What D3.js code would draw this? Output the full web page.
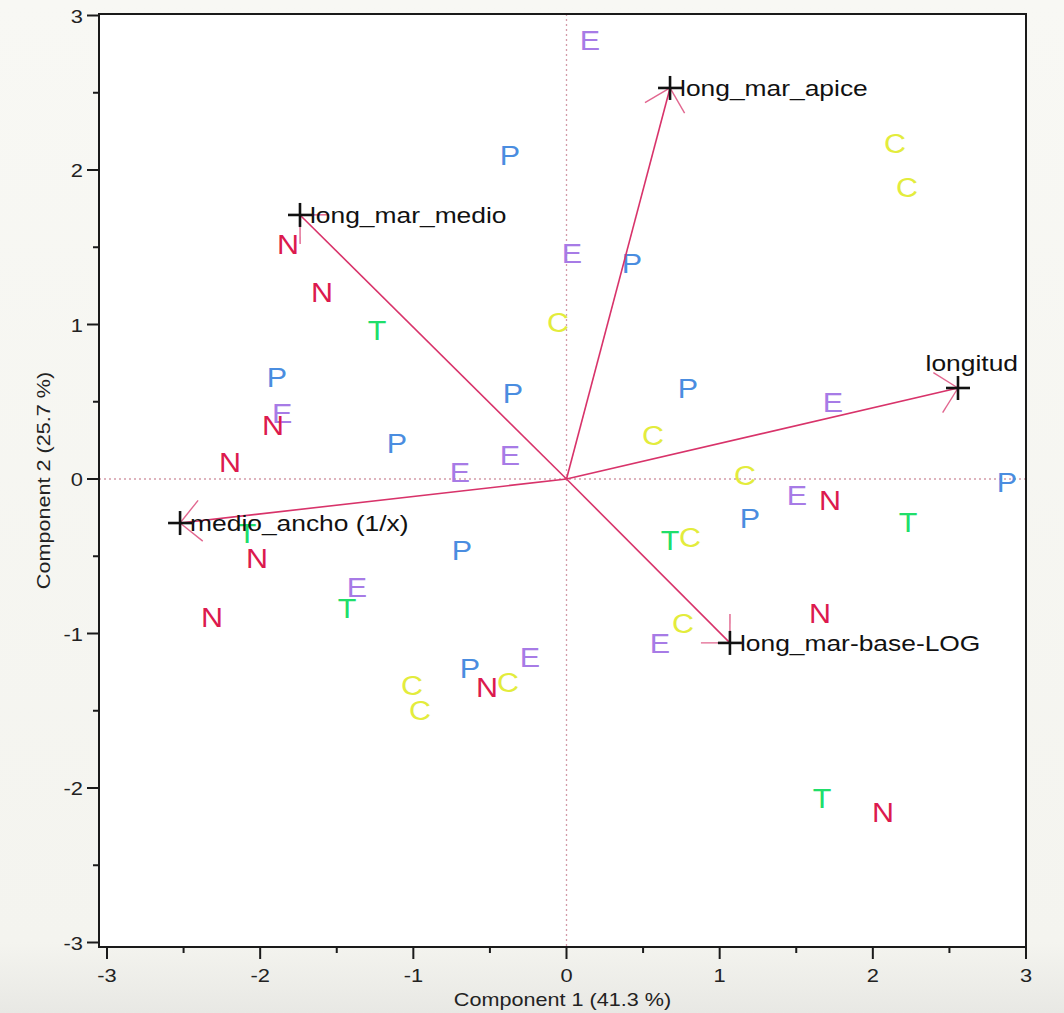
<!DOCTYPE html>
<html>
<head>
<meta charset="utf-8">
<script src="https://cdn.jsdelivr.net/npm/d3@7/dist/d3.min.js"></script>
<style>
  html, body { margin: 0; padding: 0; background: #f6f6f1; }
  svg { display: block; }
  text { font-family: "Liberation Sans", Arial, Helvetica, sans-serif; }
</style>
</head>
<body>
<svg id="chart" width="1064" height="1013"></svg>
<script>
// Observation scores on the first two principal components, labelled by group
const groups = ["E","P","C","C","N","E","P","N","T","C",
                "P","E","N","P","P","E","C","P","N","E",
                "E","C","P","E","N","T","P","T","C","T",
                "N","P","E","T","N","N","C","E","E","P",
                "N","C","C","C","T","N"];
const comp1 = [0.153,-0.369,2.145,2.223,-1.818,0.036,0.427,-1.596,-1.237,-0.055,
               -1.890,-1.857,-1.916,-0.349,0.793,1.740,0.565,-1.107,-2.197,-0.369,
               -0.695,1.165,2.876,1.505,1.720,2.230,1.198,0.676,0.806,-2.086,
               -2.021,-0.682,-1.368,-1.433,-2.314,1.655,0.761,0.610,-0.238,-0.630,
               -0.519,-0.382,-1.009,-0.956,1.668,2.066];
const comp2 = [2.841,2.097,2.175,1.890,1.521,1.463,1.398,1.210,0.964,1.016,
               0.660,0.427,0.350,0.557,0.589,0.498,0.285,0.233,0.110,0.155,
               0.045,0.026,-0.019,-0.104,-0.136,-0.278,-0.252,-0.395,-0.375,-0.350,
               -0.511,-0.460,-0.699,-0.835,-0.893,-0.867,-0.932,-1.061,-1.152,-1.223,
               -1.346,-1.314,-1.333,-1.495,-2.065,-2.155];

// Variable loadings (biplot rays)
const variables = ["long_mar_apice","long_mar_medio","longitud","medio_ancho (1/x)","long_mar-base-LOG"];
const load1 = [0.676,-1.740,2.556,-2.523,1.067];
const load2 = [2.531,1.709,0.589,-0.285,-1.061];

// Axes
const xTicks = [-3,-2,-1,0,1,2,3];
const yTicks = [-3,-2,-1,0,1,2,3];
const minorTicks = [-2.5,-1.5,-0.5,0.5,1.5,2.5];
const xTitle = "Component 1  (41.3 %)";
const yTitle = "Component 2  (25.7 %)";

const groupNames = ["C","E","N","P","T"];
const groupColors = ["#e3ec3c","#a77be6","#dc1a4e","#4a8de0","#20de6a"];

const svg = d3.select("#chart");
const W = 1064, H = 1013;
const frame = {left: 99, top: 14, right: 1026, bottom: 947};

const x = d3.scaleLinear().domain([-3, 3]).range([107, 1026]);
const y = d3.scaleLinear().domain([-3, 3]).range([942.5, 15.5]);
const color = d3.scaleOrdinal().domain(groupNames).range(groupColors);

// page background with a soft darkening toward the bottom
const defs = svg.append("defs");
const grad = defs.append("linearGradient").attr("id", "bg").attr("x1", 0).attr("x2", 0).attr("y1", 0).attr("y2", 1);
grad.append("stop").attr("offset", "0%").attr("stop-color", "#f8f8f4");
grad.append("stop").attr("offset", "93%").attr("stop-color", "#f4f4ef");
grad.append("stop").attr("offset", "100%").attr("stop-color", "#e8e8e4");
svg.append("rect").attr("width", W).attr("height", H).attr("fill", "url(#bg)");

svg.append("rect")
  .attr("x", frame.left).attr("y", frame.top)
  .attr("width", frame.right - frame.left).attr("height", frame.bottom - frame.top)
  .attr("fill", "#ffffff");

// helper: horizontally widened text
function wideText(sel, px, py, sx, rot) {
  return sel.attr("x", 0).attr("y", 0)
    .attr("transform", `translate(${px},${py})` + (rot ? ` rotate(${rot})` : "") + ` scale(${sx},1)`);
}

// zero reference lines
const ref = svg.append("g").attr("stroke", "#d39aa8").attr("stroke-width", 1.3).attr("stroke-dasharray", "2,3");
ref.append("line").attr("x1", x(0)).attr("x2", x(0)).attr("y1", frame.top).attr("y2", frame.bottom);
ref.append("line").attr("x1", frame.left).attr("x2", frame.right).attr("y1", y(0)).attr("y2", y(0));

// observation letters
const scores = groups.map((g, i) => ({g, c1: comp1[i], c2: comp2[i]}));
const markerSize = 27;
svg.append("g").selectAll("text").data(scores).join("text")
  .each(function(d) {
    wideText(d3.select(this), x(d.c1), y(d.c2) + markerSize * 0.36, 1.13);
  })
  .attr("text-anchor", "middle")
  .attr("font-size", markerSize)
  .attr("fill", d => color(d.g))
  .text(d => d.g);

// loading rays with open arrowheads
const rays = variables.map((v, i) => ({v, a: load1[i], b: load2[i]}));
const rayColor = "#d8336a";
const gRays = svg.append("g");
rays.forEach(r => {
  const x0 = x(0), y0 = y(0), x1 = x(r.a), y1 = y(r.b);
  gRays.append("line").attr("x1", x0).attr("y1", y0).attr("x2", x1).attr("y2", y1)
    .attr("stroke", rayColor).attr("stroke-width", 1.6);
  const back = Math.atan2(y0 - y1, x0 - x1);
  const headLen = 29, spread = Math.PI / 4;
  [-spread, spread].forEach(s => {
    gRays.append("line")
      .attr("x1", x1).attr("y1", y1)
      .attr("x2", x1 + headLen * Math.cos(back + s))
      .attr("y2", y1 + headLen * Math.sin(back + s))
      .attr("stroke", rayColor).attr("stroke-width", 1.4).attr("opacity", 0.75);
  });
});

// crosses at the ray tips
const crossHalf = 12;
const gCross = svg.append("g").attr("stroke", "#111").attr("stroke-width", 2.6);
rays.forEach(r => {
  gCross.append("line").attr("x1", x(r.a) - crossHalf).attr("x2", x(r.a) + crossHalf)
    .attr("y1", y(r.b)).attr("y2", y(r.b));
  gCross.append("line").attr("x1", x(r.a)).attr("x2", x(r.a))
    .attr("y1", y(r.b) - crossHalf).attr("y2", y(r.b) + crossHalf);
});

// ray labels: to the right of the tip, or above it when there is no room
const labelSize = 22, labelStretch = 1.2;
rays.forEach(r => {
  const t = svg.append("text").attr("font-size", labelSize).attr("fill", "#111").text(r.v);
  const w = r.v.length * labelSize * 0.56 * labelStretch;
  if (x(r.a) + 10 + w > frame.right) {
    wideText(t, frame.right - 8, y(r.b) - 17, labelStretch).attr("text-anchor", "end");
  } else {
    wideText(t, x(r.a) + 10, y(r.b) + 8, labelStretch);
  }
});

// frame
svg.append("rect")
  .attr("x", frame.left).attr("y", frame.top)
  .attr("width", frame.right - frame.left).attr("height", frame.bottom - frame.top)
  .attr("fill", "none").attr("stroke", "#1a1a1a").attr("stroke-width", 2);

// x axis ticks
const axisCol = "#1a1a1a";
const gx = svg.append("g").attr("stroke", axisCol).attr("stroke-width", 2);
xTicks.forEach(t => gx.append("line").attr("x1", x(t)).attr("x2", x(t)).attr("y1", frame.bottom).attr("y2", frame.bottom + 12));
minorTicks.forEach(t => gx.append("line").attr("x1", x(t)).attr("x2", x(t)).attr("y1", frame.bottom).attr("y2", frame.bottom + 6));
svg.append("g").selectAll("text").data(xTicks).join("text")
  .each(function(t) { wideText(d3.select(this), x(t), 982, 1.15); })
  .attr("text-anchor", "middle").attr("font-size", 19).attr("fill", "#222")
  .text(d => d);

// y axis ticks
const gy = svg.append("g").attr("stroke", axisCol).attr("stroke-width", 2);
yTicks.forEach(t => gy.append("line").attr("x1", frame.left - 12).attr("x2", frame.left).attr("y1", y(t)).attr("y2", y(t)));
minorTicks.forEach(t => gy.append("line").attr("x1", frame.left - 6).attr("x2", frame.left).attr("y1", y(t)).attr("y2", y(t)));
svg.append("g").selectAll("text").data(yTicks).join("text")
  .each(function(t) { wideText(d3.select(this), 83, y(t) + 7, 1.15); })
  .attr("text-anchor", "end").attr("font-size", 19).attr("fill", "#222")
  .text(d => d);

// axis titles
wideText(svg.append("text"), (frame.left + frame.right) / 2, 1006, 1.2)
  .attr("text-anchor", "middle").attr("font-size", 18).attr("fill", "#222").text(xTitle);
wideText(svg.append("text"), 50, (frame.top + frame.bottom) / 2, 1.2, -90)
  .attr("text-anchor", "middle").attr("font-size", 18).attr("fill", "#222").text(yTitle);
</script>
</body>
</html>
